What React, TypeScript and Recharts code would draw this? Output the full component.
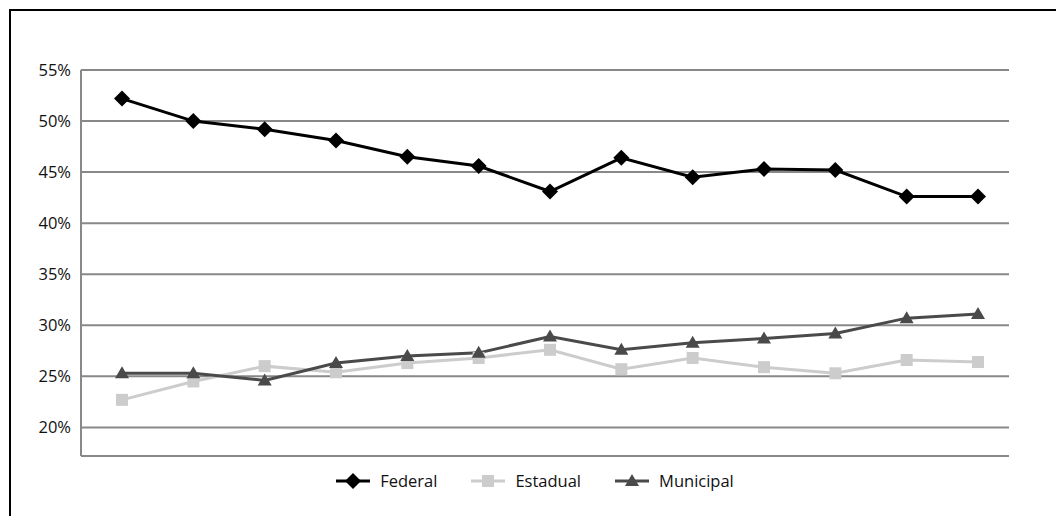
import { LineChart, Line, XAxis, YAxis, CartesianGrid, Legend } from 'recharts'

const years = ['1', '2', '3', '4', '5', '6', '7', '8', '9', '10', '11', '12', '13']
const federal = [52.2, 50.0, 49.2, 48.1, 46.5, 45.6, 43.1, 46.4, 44.5, 45.3, 45.2, 42.6, 42.6]
const estadual = [22.7, 24.5, 26.0, 25.4, 26.3, 26.8, 27.6, 25.7, 26.8, 25.9, 25.3, 26.6, 26.4]
const municipal = [25.3, 25.3, 24.6, 26.3, 27.0, 27.3, 28.9, 27.6, 28.3, 28.7, 29.2, 30.7, 31.1]
const yTicks = [20, 25, 30, 35, 40, 45, 50, 55]

const data = years.map((year, i) => ({
  year,
  Federal: federal[i],
  Estadual: estadual[i],
  Municipal: municipal[i],
}))

const font = '"Open Sans", sans-serif'

const Diamond = ({ cx, cy, fill }: any) =>
  cx == null ? null : (
    <polygon points={`${cx},${cy - 8} ${cx + 8},${cy} ${cx},${cy + 8} ${cx - 8},${cy}`} fill={fill} />
  )

const Square = ({ cx, cy, fill }: any) =>
  cx == null ? null : <rect x={cx - 6} y={cy - 6} width={12} height={12} fill={fill} />

const Triangle = ({ cx, cy, fill }: any) =>
  cx == null ? null : (
    <polygon points={`${cx},${cy - 7} ${cx + 7},${cy + 5} ${cx - 7},${cy + 5}`} fill={fill} />
  )

const series = [
  { key: 'Federal', color: '#000000', Marker: Diamond },
  { key: 'Estadual', color: '#cccccc', Marker: Square },
  { key: 'Municipal', color: '#4a4a4a', Marker: Triangle },
]

function LegendContent() {
  return (
    <div style={{ display: 'flex', justifyContent: 'center', gap: 34, paddingTop: 13, paddingLeft: 14, fontFamily: font, fontSize: 16.5, color: '#111' }}>
      {series.map(({ key, color, Marker }) => (
        <div key={key} style={{ display: 'flex', alignItems: 'center', gap: 10 }}>
          <svg width={34} height={18}>
            <line x1={0} y1={9} x2={34} y2={9} stroke={color} strokeWidth={3} />
            <Marker cx={17} cy={9} fill={color} />
          </svg>
          <span>{key}</span>
        </div>
      ))}
    </div>
  )
}

export default function App() {
  return (
    <div style={{ position: 'absolute', left: 0, top: 0, width: 1056, height: 516, overflow: 'hidden', background: '#fff' }}>
      <div style={{ position: 'absolute', left: 9, top: 9, width: 1100, height: 600, border: '2px solid #000' }} />
      <div style={{ position: 'absolute', left: 0, top: 0 }}>
        <LineChart width={1056} height={516} data={data} margin={{ top: 70, right: 47, bottom: 20, left: 0 }}>
          <CartesianGrid vertical={false} stroke="#888" strokeWidth={2} />
          <XAxis dataKey="year" hide padding={{ left: 41, right: 31 }} />
          <YAxis
            width={81}
            domain={[17.2, 55]}
            ticks={yTicks}
            tickFormatter={(v) => `${v}%`}
            axisLine={{ stroke: '#888', strokeWidth: 2 }}
            tickLine={false}
            tickMargin={4}
            tick={{ fill: '#111', fontSize: 16.5, fontFamily: font }}
          />
          <Legend
            verticalAlign="bottom"
            height={40}
            wrapperStyle={{ left: 0, width: 1056 }}
            content={<LegendContent />}
          />
          {series.map(({ key, color, Marker }) => (
            <Line
              key={key}
              dataKey={key}
              stroke={color}
              strokeWidth={3}
              dot={<Marker fill={color} />}
              activeDot={false}
              isAnimationActive={false}
            />
          ))}
        </LineChart>
      </div>
    </div>
  )
}
